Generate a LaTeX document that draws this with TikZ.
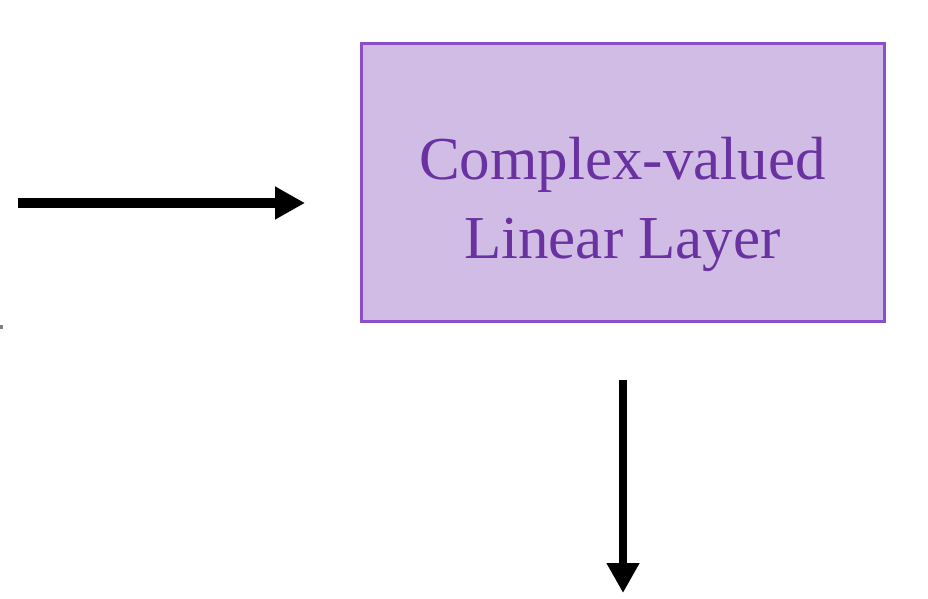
\documentclass[tikz,border=0pt]{standalone}
\usepackage{fontspec}
\setmainfont{Liberation Serif}
\usetikzlibrary{arrows.meta}
\definecolor{boxfill}{HTML}{D1BCE6}
\definecolor{boxdraw}{HTML}{8B4FCB}
\definecolor{boxtext}{HTML}{6A32A0}
\tikzset{
  layerbox/.style={draw=boxdraw, fill=boxfill, line width=3pt, minimum width=523pt, minimum height=277pt, inner sep=0pt},
  layertext/.style={text=boxtext, font=\fontsize{61}{79}\selectfont, align=center, inner sep=0pt},
  flow/.style={line width=#1, -{Triangle[length=30pt,width=31pt]}},
}
\begin{document}
\begin{tikzpicture}[x=1pt,y=1pt]
\useasboundingbox (0,0) rectangle (928,598);
\node[layerbox] (box) at (622.5,415.5) {};
\node[layertext, anchor=base] (label) at (622.5,340) {Complex-valued\\Linear Layer};
\coordinate (inL) at (18,395);
\coordinate (inR) at (305,395);
\draw[flow=10pt] (inL) -- (inR);
\coordinate (outT) at (623,218);
\coordinate (outB) at (623,5);
\draw[flow=8.5pt] (outT) -- (outB);
\fill[gray] (0,269) rectangle (3,273);
\end{tikzpicture}
\end{document}
